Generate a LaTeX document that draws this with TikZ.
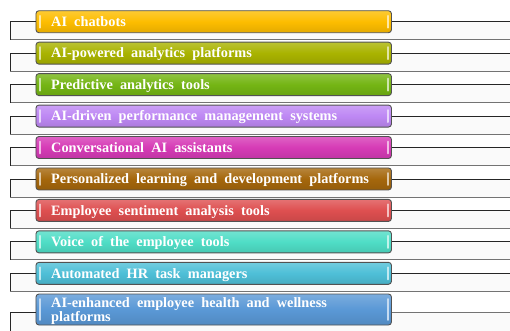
\documentclass[tikz,border=0pt]{standalone}
\usepackage{fontspec}
\setmainfont{Liberation Serif}
\newfontfamily\barfont[WordSpace=2]{Liberation Serif}
\definecolor{cA}{HTML}{FDBD00}
\definecolor{cB}{HTML}{A9B300}
\definecolor{cC}{HTML}{74B514}
\definecolor{cD}{HTML}{BE88F4}
\definecolor{cE}{HTML}{D63BB6}
\definecolor{cF}{HTML}{A5670C}
\definecolor{cG}{HTML}{DE4F50}
\definecolor{cH}{HTML}{4FDDC6}
\definecolor{cI}{HTML}{4EBFD7}
\definecolor{cJ}{HTML}{5A98D6}
\begin{document}
\begin{tikzpicture}[x=1pt,y=-1pt,
  band/.style={fill=black!2},
  link/.style={draw=black!85,line width=0.8pt},
  lowlink/.style={draw=black!55,line width=0.9pt},
  bar/.style={draw=black!68,line width=0.9pt,rounded corners=3pt,
    inner sep=0pt,anchor=west,minimum width=355.5pt,
    top color=#1!80!white,bottom color=#1!90!black,middle color=#1},
  gloss/.style={line width=2pt,line cap=round,draw=#1!35!white},
  label/.style={anchor=base west,text=white,inner sep=0pt,align=left,
    font=\barfont\bfseries\fontsize{14.3}{14}\selectfont},
]
\useasboundingbox (0,0) rectangle (510,330);
% one entry per tool: line y / colour / caption
\foreach \i/\y/\col/\txt in {
  1/21.7/cA/{AI chatbots},
  2/53.15/cB/{AI-powered analytics platforms},
  3/84.6/cC/{Predictive analytics tools},
  4/116.05/cD/{AI-driven performance management systems},
  5/147.5/cE/{Conversational AI assistants},
  6/178.95/cF/{Personalized learning and development platforms},
  7/210.4/cG/{Employee sentiment analysis tools},
  8/241.85/cH/{Voice of the employee tools},
  9/273.3/cI/{Automated HR task managers}}{
  \coordinate (l\i) at (10,\y);
  \coordinate (k\i) at (10,\y+18);
  \coordinate (e\i) at (510,\y);
  \coordinate (f\i) at (510,\y+18);
  \fill[band] (l\i) rectangle (f\i);
  \draw[lowlink] (k\i) -- (f\i);
  \draw[link] (l\i) -- (k\i);
  \node[bar=\col,minimum height=22pt] (b\i) at (l\i) [xshift=25.5pt] {};
  \draw[link] (b\i.west) -- (l\i);
  \draw[link] (b\i.east) -- (e\i);
  \draw[gloss=\col] ([xshift=4pt,yshift=-5.5pt]b\i.north west) -- ([xshift=4pt,yshift=5.5pt]b\i.south west);
  \draw[gloss=\col] ([xshift=-4pt,yshift=-5.5pt]b\i.north east) -- ([xshift=-4pt,yshift=5.5pt]b\i.south east);
  \node[label] (t\i) at (51,\y+4.8) {\txt};
}
% last entry spans two text lines
\coordinate (l10) at (10,312.5);
\coordinate (k10) at (10,332);
\coordinate (e10) at (510,312.5);
\coordinate (f10) at (510,332);
\fill[band] (l10) rectangle (f10);
\draw[link] (l10) -- (k10);
\node[bar=cJ,minimum height=31pt] (b10) at (35.5,309.5) {};
\draw[link] (l10) -- (b10.west |- l10);
\draw[lowlink] (b10.east |- e10) -- (e10);
\draw[gloss=cJ] ([xshift=4pt,yshift=-5.5pt]b10.north west) -- ([xshift=4pt,yshift=5.5pt]b10.south west);
\draw[gloss=cJ] ([xshift=-4pt,yshift=-5.5pt]b10.north east) -- ([xshift=-4pt,yshift=5.5pt]b10.south east);
\node[label] (t10) at (51,321) {AI-enhanced employee health and wellness\\platforms};
\end{tikzpicture}
\end{document}
